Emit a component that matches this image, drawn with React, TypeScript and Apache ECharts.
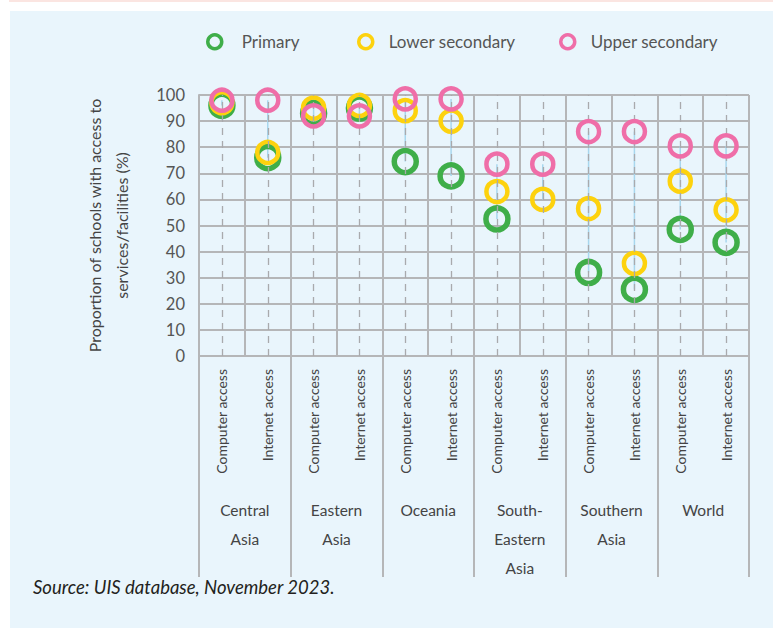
import { useEffect, useRef } from "react";
import * as echarts from "echarts";

const categoryLabels = [
  "Computer access", "Internet access",
  "Computer access", "Internet access",
  "Computer access", "Internet access",
  "Computer access", "Internet access",
  "Computer access", "Internet access",
  "Computer access", "Internet access",
];
const groupLabels = [
  "Central\nAsia",
  "Eastern\nAsia",
  "Oceania",
  "South-\nEastern\nAsia",
  "Southern\nAsia",
  "World",
];
const primary: (number | null)[] = [96, 76, 93, 95, 74.5, 69, 52.5, null, 32, 25.5, 48.5, 43.5];
const lowerSecondary: (number | null)[] = [97, 78, 95, 96, 94, 90, 63, 60, 56.5, 35.5, 67, 56];
const upperSecondary: (number | null)[] = [98, 98, 92, 92, 98.5, 98.5, 73.5, 73.5, 86, 86, 80.5, 80.5];
const seriesNames = ["Primary", "Lower secondary", "Upper secondary"];
const yMin = 0;
const yMax = 100;
const yInterval = 10;
const yTitle = "Proportion of schools with access to\nservices/facilities (%)";
const sourceNote = "Source: UIS database, November 2023.";

const FONT = "Lato, 'Liberation Sans', sans-serif";
const GREEN = "#3fae49";
const YELLOW = "#fdd20e";
const PINK = "#ef6ea8";
const GRID = "#b5b6b8";
const TEXT = "#444444";

export default function App() {
  const ref = useRef<HTMLDivElement>(null);

  useEffect(() => {
    if (!ref.current) return;
    const chart = echarts.init(ref.current, undefined, { renderer: "svg" });

    const ranges = categoryLabels.map((_, i) => {
      const vals = [primary[i], lowerSecondary[i], upperSecondary[i]].filter(
        (v) => v !== null
      ) as number[];
      return [i, Math.min(...vals), Math.max(...vals)];
    });

    const colors = [GREEN, YELLOW, PINK];
    const datasets = [primary, lowerSecondary, upperSecondary];
    const legendCenters = [208, 359, 561];
    const legendPad = [15, 11, 11];

    const option: any = {
      animation: false,
      backgroundColor: "transparent",
      textStyle: { fontFamily: FONT },
      legend: seriesNames.map((name, i) => ({
        left: legendCenters[i] - 7,
        top: 28,
        itemWidth: 14,
        itemHeight: 14,
        data: [
          {
            name,
            icon: "circle",
            itemStyle: { color: "rgba(0,0,0,0)", borderColor: colors[i], borderWidth: 3.5 },
          },
        ],
        textStyle: { fontFamily: FONT, fontSize: 17, color: "#555", padding: [0, 0, 0, legendPad[i]] },
        selectedMode: false,
      })),
      grid: { left: 199, top: 95, right: 24, bottom: 272, containLabel: false },
      xAxis: [
        {
          type: "category",
          data: categoryLabels,
          position: "bottom",
          offset: 0,
          boundaryGap: true,
          axisLine: { show: true, lineStyle: { color: GRID, width: 2 } },
          axisTick: { show: false },
          axisLabel: {
            interval: 0,
            rotate: 90,
            margin: 13,
            fontFamily: FONT,
            fontSize: 14,
            color: TEXT,
          },
          splitLine: { show: true, interval: 0, lineStyle: { color: GRID, width: 2 } },
        },
        {
          type: "category",
          data: groupLabels,
          position: "bottom",
          offset: 0,
          boundaryGap: true,
          axisLine: { show: false },
          axisTick: {
            show: true,
            interval: 0,
            length: 221,
            lineStyle: { color: GRID, width: 2 },
          },
          axisLabel: {
            interval: 0,
            margin: 139,
            fontFamily: FONT,
            fontSize: 15.5,
            lineHeight: 29,
            color: TEXT,
            verticalAlign: "top",
          },
          splitLine: { show: false },
        },
      ],
      yAxis: {
        type: "value",
        min: yMin,
        max: yMax,
        interval: yInterval,
        name: yTitle,
        nameLocation: "middle",
        nameGap: 64,
        nameTextStyle: { fontFamily: FONT, fontSize: 16, lineHeight: 27, color: TEXT, align: "center" },
        axisLine: { show: true, lineStyle: { color: GRID, width: 2 } },
        axisTick: { show: false },
        axisLabel: { fontFamily: FONT, fontSize: 16.5, color: "#555", margin: 14 },
        splitLine: { show: true, lineStyle: { color: GRID, width: 2 } },
      },
      graphic: [
        {
          type: "text",
          left: 33,
          top: 577,
          style: {
            text: sourceNote,
            fontFamily: FONT,
            fontStyle: "italic",
            fontSize: 18.5,
            fill: "#231f20",
          },
        },
      ],
      series: [
        {
          type: "custom",
          name: "range",
          xAxisIndex: 0,
          yAxisIndex: 0,
          silent: true,
          z: 1,
          data: ranges,
          encode: { x: 0, y: [1, 2] },
          renderItem: (params: any, api: any) => {
            const lo = api.coord([api.value(0), api.value(1)]);
            const hi = api.coord([api.value(0), api.value(2)]);
            return {
              type: "line",
              shape: { x1: lo[0], y1: lo[1], x2: hi[0], y2: hi[1] },
              style: { stroke: "#a8d7ee", lineWidth: 1.5 },
            };
          },
          markLine: {
            silent: true,
            symbol: ["none", "none"],
            label: { show: false },
            lineStyle: { color: "#a9aaad", width: 1.3, type: [7, 6] },
            data: categoryLabels.map((_, i) => ({ xAxis: i })),
          },
        },
        ...seriesNames.map((name, i) => ({
          type: "scatter",
          name,
          xAxisIndex: 0,
          yAxisIndex: 0,
          z: 3 + i,
          symbol: "circle",
          symbolSize: i === 0 ? 22 : 21,
          itemStyle: {
            color: "rgba(0,0,0,0)",
            borderColor: colors[i],
            borderWidth: i === 0 ? 5.5 : 4.5,
            opacity: 1,
          },
          data: datasets[i].map((v, j) => (v === null ? [j, null] : [j, v])),
        })),
      ],
    };

    chart.setOption(option);
    return () => chart.dispose();
  }, []);

  return (
    <div style={{ position: "absolute", left: 0, top: 0, width: 773, height: 628, background: "#ffffff" }}>
      <div style={{ position: "absolute", left: 9, top: 0, width: 764, height: 2, background: "#fbe5e1" }} />
      <div style={{ position: "absolute", left: 10, top: 11, width: 763, height: 617, background: "#e9f5fc" }} />
      <div ref={ref} style={{ position: "absolute", left: 0, top: 0, width: 773, height: 628 }} />
    </div>
  );
}
